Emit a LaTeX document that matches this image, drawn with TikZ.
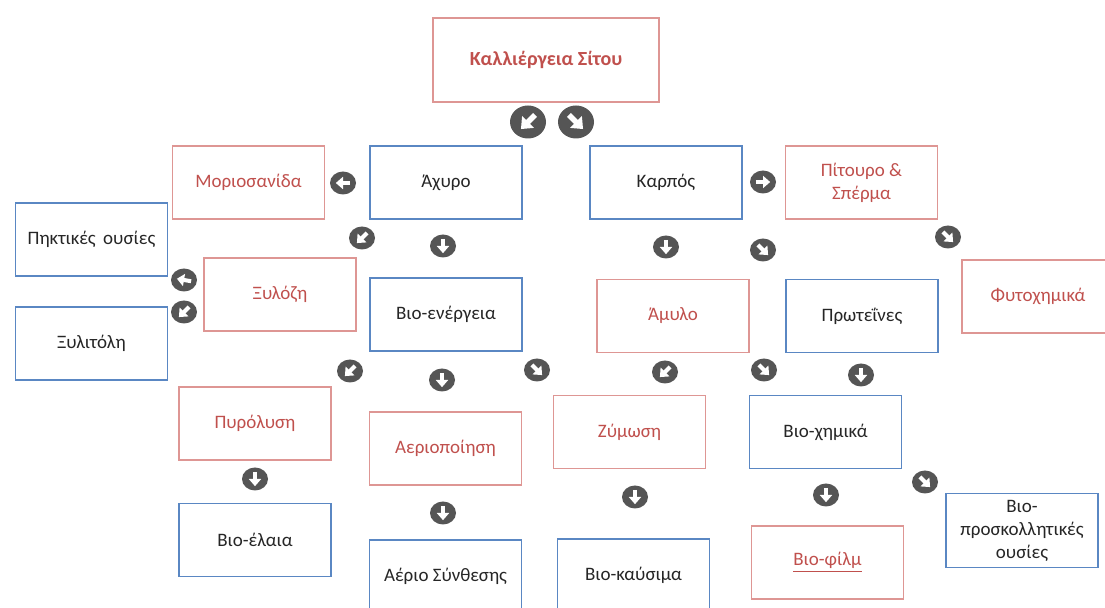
\documentclass[tikz,border=0pt]{standalone}
\usepackage{fontspec}
\setmainfont{Carlito}
\usetikzlibrary{shapes.geometric,arrows.meta}
\definecolor{boxred}{RGB}{222,150,148}
\definecolor{txtred}{RGB}{192,80,77}
\definecolor{boxblue}{RGB}{90,135,195}
\definecolor{icongray}{RGB}{85,85,85}

\begin{document}
\begin{tikzpicture}[x=0.5pt, y=-0.5pt,
  stage/.style={draw, line width=0.7pt, minimum width=76pt, minimum height=36.5pt, align=center, fill=white, font=\fontsize{9.5}{11.5}\selectfont},
  redbox/.style={stage, draw=boxred, text=txtred},
  bluebox/.style={stage, draw=boxblue, text=black!85},
  icon/.style={ellipse, fill=icongray, inner sep=0pt, minimum width=13pt, minimum height=11.5pt,
    path picture={\draw[white, line width=2pt, -{Triangle[width=6pt,length=3.6pt]}] (path picture bounding box.center) ++(#1+180:3.6pt) -- ++(#1:7.2pt);}},
  bigicon/.style={ellipse, fill=icongray, inner sep=0pt, minimum width=18pt, minimum height=16.5pt,
    path picture={\draw[white, line width=2.8pt, -{Triangle[width=8pt,length=5pt]}] (path picture bounding box.center) ++(#1+180:5pt) -- ++(#1:10pt);}}
]
\useasboundingbox (0,0) rectangle (1105,608);
\clip (0,0) rectangle (1105,608);

% Top
\node[redbox, minimum width=113pt, minimum height=42pt, font=\fontsize{10}{12}\selectfont\bfseries] (wheat) at (546,60) {Καλλιέργεια Σίτου};

% Straw side
\node[bluebox] (straw) at (446,182.5) {Άχυρο};
\node[redbox] (board) at (248.5,182.5) {Μοριοσανίδα};
\node[bluebox] (pectin) at (91.5,239.5) {Πηκτικές\, ουσίες};
\node[redbox] (xylose) at (280,294.5) {Ξυλόζη};
\node[bluebox] (xylitol) at (91.5,343.5) {Ξυλιτόλη};
\node[bluebox] (bioen) at (446,314.5) {Βιο-ενέργεια};
\node[redbox] (pyro) at (255,423.5) {Πυρόλυση};
\node[redbox] (gasif) at (445.5,448.5) {Αεριοποίηση};
\node[bluebox] (biooil) at (255,540) {Βιο-έλαια};
\node[bluebox] (syngas) at (445.5,576.5) {Αέριο Σύνθεσης};

% Grain side
\node[bluebox] (grain) at (666,182.5) {Καρπός};
\node[redbox] (bran) at (861.5,182.5) {Πίτουρο \&\\Σπέρμα};
\node[redbox] (phyto) at (1038,296.5) {Φυτοχημικά};
\node[redbox] (starch) at (673,316) {Άμυλο};
\node[bluebox] (protein) at (862,316) {Πρωτεΐνες};
\node[redbox] (ferm) at (629.5,432) {Ζύμωση};
\node[bluebox] (biochem) at (825.5,432) {Βιο-χημικά};
\node[bluebox] (biofuel) at (633.5,575.5) {Βιο-καύσιμα};
\node[redbox] (biofilm) at (827.5,562.5) {\underline{Βιο-φίλμ}};
\node[bluebox] (adhes) at (1022,530.5) {Βιο-\\προσκολλητικές\\ουσίες};

% arrow icons
\node[bigicon=-135] (t1) at (528,122) {};
\node[bigicon=-45] (t2) at (576,122) {};
\foreach \x/\y/\a [count=\n] in {343/183/180, 763/182/0, 362/238/-135, 443/246/-90,
    666/247/-90, 763/250/-45, 948/237/-45, 184/280/170, 184/312/-135,
    350/371/-135, 442/380/-90, 537/370/-45, 665/372/-135, 764/370/-45, 861/375/-90,
    255/479/-90, 443/513/-90, 635/497/-90, 826/495/-90, 925/482/-45} {
  \node[icon=\a] (i\n) at (\x,\y) {};
}
\end{tikzpicture}
\end{document}
